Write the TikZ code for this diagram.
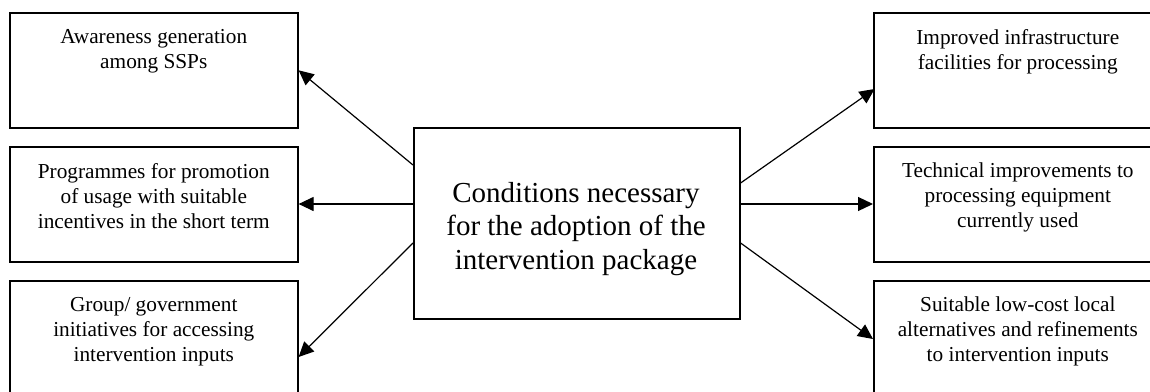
\documentclass[tikz,border=0pt]{standalone}
\usepackage{fontspec}
\setmainfont{Liberation Serif}
\usetikzlibrary{arrows.meta,calc}
\begin{document}
\begin{tikzpicture}[x=1pt,y=-1pt,
  sidebox/.style={draw,line width=1.6pt,minimum width=288pt,minimum height=115pt,anchor=north west,inner sep=0pt},
  sidetext/.style={anchor=north,align=center,inner sep=0pt,font=\fontsize{21.3}{25}\selectfont},
  centerbox/.style={draw,line width=1.6pt,minimum width=326pt,minimum height=191pt,anchor=north west,inner sep=0pt},
  centertext/.style={align=center,inner sep=0pt,font=\fontsize{29}{33.5}\selectfont},
  conn/.style={line width=1.2pt,-{Triangle[length=15pt,width=14pt]}}]
\useasboundingbox (0,0) rectangle (1150,391);
\clip (0,0) rectangle (1150,391);
% left boxes
\node[sidebox] (l1) at (9,12) {};
\node[sidebox] (l2) at (9,146) {};
\node[sidebox] (l3) at (9,280) {};
% right boxes
\node[sidebox] (r1) at (873,12) {};
\node[sidebox] (r2) at (873,146) {};
\node[sidebox] (r3) at (873,280) {};
% center box
\node[centerbox] (c) at (413,127) {};
\node[centertext] (ct) at (576,229) {Conditions necessary\\for the adoption of the\\intervention package};
% texts
\node[sidetext] (l1t) at ($(l1.north)+(0,17)$) {Awareness generation\\among SSPs};
\node[sidetext] (l2t) at ($(l2.north)+(0,17)$) {Programmes for promotion\\of usage with suitable\\incentives in the short term};
\node[sidetext] (l3t) at ($(l3.north)+(0,17)$) {Group/ government\\initiatives for accessing\\intervention inputs};
\node[sidetext] (r1t) at ($(r1.north)+(0,17)$) {Improved infrastructure\\facilities for processing};
\node[sidetext] (r2t) at ($(r2.north)+(0,17)$) {Technical improvements to\\processing equipment\\currently used};
\node[sidetext] (r3t) at ($(r3.north)+(0,17)$) {Suitable low-cost local\\alternatives and refinements\\to intervention inputs};
% connectors
\draw[conn] ($(c.north west)+(0,38)$) -- (l1.east);
\draw[conn] ($(c.north west)+(0,77)$) -- ($(l2.north east)+(0,58)$);
\draw[conn] ($(c.north west)+(0,116)$) -- ($(l3.north east)+(0,77)$);
\draw[conn] ($(c.north east)+(0,56)$) -- ($(r1.north east)+(-288,77)$);
\draw[conn] ($(c.north east)+(0,77)$) -- ($(r2.north west)+(0,58)$);
\draw[conn] ($(c.north east)+(0,116)$) -- ($(r3.north west)+(0,59)$);
\end{tikzpicture}
\end{document}
